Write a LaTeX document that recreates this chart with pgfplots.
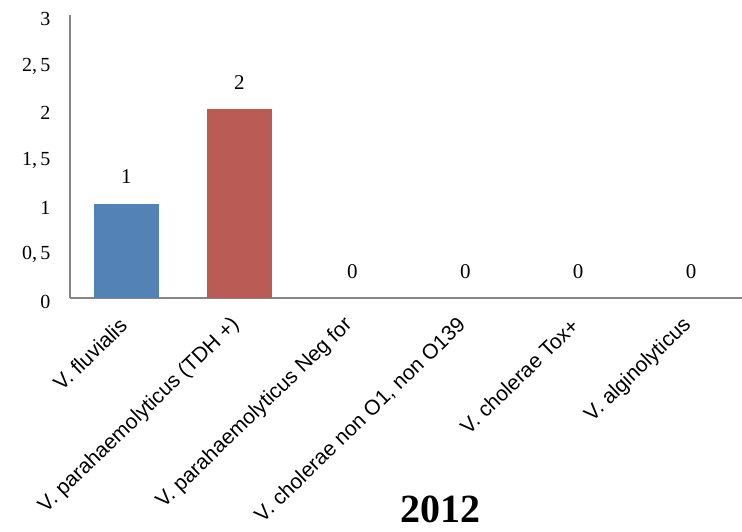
\documentclass[border=0pt]{standalone}
\usepackage{pgfplots}
\pgfplotsset{compat=1.18}
\usepackage{fontspec}
\setmainfont{Liberation Serif}
\setsansfont{Liberation Sans}

\definecolor{barblue}{RGB}{83,130,182}
\definecolor{barred}{RGB}{187,91,85}
\definecolor{axisgray}{RGB}{134,134,134}

\begin{document}
\begin{tikzpicture}
\path[use as bounding box] (-70pt,-233pt) rectangle (672pt,298pt);
\begin{axis}[
  at={(0pt,0pt)}, anchor=south west,
  scale only axis,
  width=672pt, height=283pt,
  xmin=-0.5, xmax=5.45,
  ymin=0, ymax=3,
  axis lines=left,
  axis line style={-, draw=axisgray, line width=1.4pt},
  ytick={0,0.5,1,1.5,2,2.5,3},
  yticklabels={0,{0,\,5},1,{1,\,5},2,{2,\,5},3},
  xtick={0,1,2,3,4,5},
  xticklabels={V. fluvialis,
               V. parahaemolyticus (TDH +),
               V. parahaemolyticus Neg for,
               {V. cholerae non O1, non O139},
               V. cholerae Tox+,
               V. alginolyticus},
  major tick length=0pt,
  /pgf/number format/assume math mode=true,
  yticklabel style={font=\fontsize{20}{23}\selectfont, anchor=east, xshift=-16pt, yshift=-4pt},
  xticklabel style={font=\sffamily\fontsize{21}{24}\selectfont, xshift=-3pt, yshift=-24pt, rotate=44, anchor=east, inner sep=0pt},
  ybar, bar width=65pt, bar shift=0pt,
  nodes near coords,
  every node near coord/.style={font=\fontsize{21}{24}\selectfont, anchor=base, yshift=20pt, inner sep=0pt, text=black},
  clip=false,
]
\addplot[fill=barblue, draw=none] coordinates {(0,1)};
\addplot[fill=barred, draw=none] coordinates {(1,2)};
\addplot[fill=none, draw=none] coordinates {(2,0) (3,0) (4,0) (5,0)};
\end{axis}
\node[anchor=base, font=\bfseries\fontsize{40}{44}\selectfont] at (370pt,-224pt) {2012};
\end{tikzpicture}
\end{document}
